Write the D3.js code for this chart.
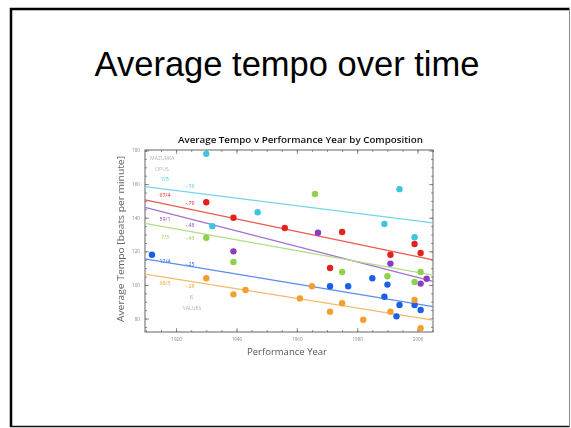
<!DOCTYPE html>
<html><head><meta charset="utf-8">
<script src="https://cdn.jsdelivr.net/npm/d3@7"></script>
<style>html,body{margin:0;padding:0;background:#fff;}svg{display:block}</style>
</head><body>
<svg id="slide" width="571" height="428"></svg>
<script>
// Mazurka recordings: performance year vs average tempo, one series per composition
const seriesNames  = ["7/5", "67/4", "59/1", "7/3", "17/4", "68/3"];
const slopeLabels  = ["-.16", "-.79", "-.48", "-.43", "-.25", "-.28"];
const seriesColors = ["#3ec6de", "#e2201e", "#8b3dc2", "#8fd04e", "#1f5fe6", "#f2a031"];
const lineColors   = ["#72d6ea", "#ec5a50", "#a571d2", "#b0de86", "#5b8ced", "#f5bb6c"];

const years7_5  = [1930, 1932, 1947, 1989, 1994, 1999];
const tempo7_5  = [178, 135, 143.3, 136.3, 157, 128.4];
const years67_4 = [1930, 1939, 1956, 1971, 1975, 1991, 1999, 2001];
const tempo67_4 = [149.2, 140, 133.9, 110.1, 131.5, 118, 124.4, 119];
const years59_1 = [1939, 1967, 1991, 2001, 2003];
const tempo59_1 = [120, 131.1, 112.7, 100.8, 103.7];
const years7_3  = [1930, 1939, 1966, 1975, 1990, 1999, 2001];
const tempo7_3  = [128.1, 113.7, 154.1, 107.7, 105.2, 101.8, 107.7];
const years17_4 = [1912, 1971, 1977, 1985, 1989, 1990, 1993, 1994, 1999, 2001];
const tempo17_4 = [118, 99.2, 99.2, 104, 93, 100.2, 81.3, 88.1, 88.1, 85.1];
const years68_3 = [1930, 1939, 1943, 1961, 1965, 1971, 1975, 1982, 1991, 1999, 2001];
const tempo68_3 = [104, 94.4, 97, 92, 99.2, 84.1, 89.1, 79.3, 84.1, 91, 74.2];

// trend lines: tempo at the first and last year of the axis
const trendStart = [158.5, 150.6, 146.2, 136.6, 115.5, 106.5];
const trendEnd   = [136.9, 114.9, 102.1, 105.9, 87.1, 79.1];

const xTicks = [1920, 1940, 1960, 1980, 2000];
const yTicks = [80, 100, 120, 140, 160, 180];
const xDomain = [1909.7, 2005.1];
const yDomain = [72, 180.3];

const svg = d3.select("#slide");

// slide frame
svg.append("line").attr("x1", 11).attr("x2", 11).attr("y1", 8).attr("y2", 427)
  .attr("stroke", "#000").attr("stroke-width", 2.5);
svg.append("line").attr("x1", 10).attr("x2", 570).attr("y1", 9).attr("y2", 9)
  .attr("stroke", "#000").attr("stroke-width", 2.5);
svg.append("line").attr("x1", 10).attr("x2", 570).attr("y1", 426.5).attr("y2", 426.5)
  .attr("stroke", "#111").attr("stroke-width", 1.5);
svg.append("line").attr("x1", 569.5).attr("x2", 569.5).attr("y1", 8).attr("y2", 427)
  .attr("stroke", "#8a8a8a").attr("stroke-width", 1);

svg.append("text").attr("x", 287).attr("y", 76).attr("text-anchor", "middle")
  .attr("font-family", "Liberation Sans, Arial, sans-serif").attr("font-size", 34.5)
  .attr("fill", "#000").text("Average tempo over time");

// embedded chart
const defs = svg.append("defs");
defs.append("filter").attr("id", "soft").append("feGaussianBlur").attr("stdDeviation", 0.35);
const g = svg.append("g").attr("filter", "url(#soft)");

const pLeft = 145, pRight = 433, pTop = 150, pBottom = 332;
const x = d3.scaleLinear().domain(xDomain).range([pLeft, pRight]);
const y = d3.scaleLinear().domain(yDomain).range([pBottom, pTop]);

g.append("text").attr("x", 300.5).attr("y", 143).attr("text-anchor", "middle")
  .attr("font-family", "Open Sans, sans-serif").attr("font-size", 9.6).attr("font-weight", 600)
  .attr("textLength", 245).attr("lengthAdjust", "spacingAndGlyphs")
  .attr("fill", "#111").text("Average Tempo v Performance Year by Composition");

const fontF = "Open Sans, sans-serif";
const minorX = d3.range(1910, 2006, 5);
const minorY = d3.range(75, 181, 5);

function styleAxis(sel) {
  sel.select(".domain").remove();
  sel.selectAll(".tick line").attr("stroke", "#777").attr("stroke-width", 0.8);
  sel.selectAll(".tick text").attr("fill", "#888").attr("font-family", fontF).attr("font-size", 4.6);
}

// major ticks with labels, and minor ticks, on all four sides (pointing inward)
g.append("g").attr("transform", `translate(0,${pBottom})`)
  .call(d3.axisBottom(x).tickValues(xTicks).tickFormat(d3.format("d")).tickSizeInner(-4).tickSizeOuter(0).tickPadding(6))
  .call(styleAxis);
g.append("g").attr("transform", `translate(0,${pBottom})`)
  .call(d3.axisBottom(x).tickValues(minorX).tickFormat("").tickSizeInner(-2).tickSizeOuter(0)).call(styleAxis);
g.append("g").attr("transform", `translate(0,${pTop})`)
  .call(d3.axisTop(x).tickValues(xTicks).tickFormat("").tickSizeInner(-4).tickSizeOuter(0)).call(styleAxis);
g.append("g").attr("transform", `translate(0,${pTop})`)
  .call(d3.axisTop(x).tickValues(minorX).tickFormat("").tickSizeInner(-2).tickSizeOuter(0)).call(styleAxis);
g.append("g").attr("transform", `translate(${pLeft},0)`)
  .call(d3.axisLeft(y).tickValues(yTicks).tickFormat(d3.format("d")).tickSizeInner(-4).tickSizeOuter(0).tickPadding(5))
  .call(styleAxis);
g.append("g").attr("transform", `translate(${pLeft},0)`)
  .call(d3.axisLeft(y).tickValues(minorY).tickFormat("").tickSizeInner(-2).tickSizeOuter(0)).call(styleAxis);
g.append("g").attr("transform", `translate(${pRight},0)`)
  .call(d3.axisRight(y).tickValues(yTicks).tickFormat("").tickSizeInner(-4).tickSizeOuter(0)).call(styleAxis);
g.append("g").attr("transform", `translate(${pRight},0)`)
  .call(d3.axisRight(y).tickValues(minorY).tickFormat("").tickSizeInner(-2).tickSizeOuter(0)).call(styleAxis);

g.append("rect").attr("x", pLeft).attr("y", pTop).attr("width", pRight - pLeft).attr("height", pBottom - pTop)
  .attr("fill", "none").attr("stroke", "#555").attr("stroke-width", 0.9);

g.append("text").attr("x", 287).attr("y", 355).attr("text-anchor", "middle")
  .attr("font-family", fontF).attr("font-size", 9.5).attr("fill", "#555")
  .attr("textLength", 80).attr("lengthAdjust", "spacingAndGlyphs").text("Performance Year");
g.append("text").attr("transform", "translate(124,239) rotate(-90)").attr("text-anchor", "middle")
  .attr("font-family", fontF).attr("font-size", 9.2).attr("fill", "#666")
  .attr("textLength", 166).attr("lengthAdjust", "spacingAndGlyphs").text("Average Tempo [beats per minute]");

const allYears = [years7_5, years67_4, years59_1, years7_3, years17_4, years68_3];
const allTempo = [tempo7_5, tempo67_4, tempo59_1, tempo7_3, tempo17_4, tempo68_3];

const plot = g.append("g");
// trend lines
seriesNames.forEach((n, i) => {
  plot.append("line")
    .attr("x1", x(xDomain[0])).attr("y1", y(trendStart[i]))
    .attr("x2", x(xDomain[1])).attr("y2", y(trendEnd[i]))
    .attr("stroke", lineColors[i]).attr("stroke-width", 1.3);
});
// recordings
seriesNames.forEach((n, i) => {
  plot.selectAll(null).data(d3.zip(allYears[i], allTempo[i])).join("circle")
    .attr("cx", d => x(d[0])).attr("cy", d => y(d[1])).attr("r", 3.2)
    .attr("fill", seriesColors[i]);
});

// in-plot key: opus numbers and slope values
const key = g.append("g").attr("font-family", fontF).attr("font-size", 5.2);
key.append("text").attr("x", 150).attr("y", 160).attr("fill", "#b5b5b5").text("MAZURKA");
key.append("text").attr("x", 155).attr("y", 171).attr("fill", "#b5b5b5").text("OPUS");
const keyRows = [180.5, 197, 221, 238.5, 263, 285];
const slopeRows = [187.5, 205, 227, 239.5, 266, 288];
seriesNames.forEach((n, i) => {
  key.append("text").attr("x", 165).attr("y", keyRows[i]).attr("text-anchor", "middle")
    .attr("fill", seriesColors[i]).text(n);
  key.append("text").attr("x", 190).attr("y", slopeRows[i]).attr("text-anchor", "middle")
    .attr("fill", seriesColors[i]).text(slopeLabels[i]);
});
key.append("text").attr("x", 191.5).attr("y", 298.5).attr("text-anchor", "middle").attr("fill", "#b5b5b5").text("B");
key.append("text").attr("x", 192).attr("y", 310).attr("text-anchor", "middle").attr("fill", "#b5b5b5").text("VALUES");
</script>
</body></html>
